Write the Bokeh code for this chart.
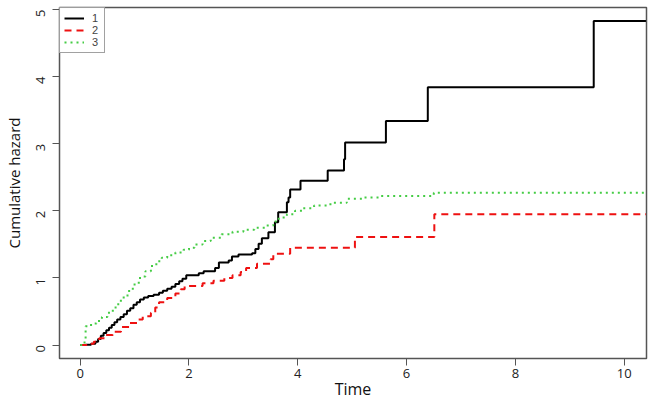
import math
from bokeh.plotting import figure
from bokeh.models import Range1d, FixedTicker
from bokeh.embed import file_html
from bokeh.resources import INLINE

# Series 1 (black solid)
t1 = [0, 0.1, 0.2, 0.28, 0.33, 0.38, 0.43, 0.48, 0.53, 0.58, 0.63, 0.68, 0.74, 0.8,
      0.86, 0.92, 0.98, 1.04, 1.1, 1.17, 1.25, 1.35, 1.45, 1.52, 1.6, 1.68, 1.75, 1.82,
      1.88, 1.95, 2.18, 2.27, 2.48, 2.55, 2.73, 2.79, 2.91, 3.16, 3.22,
      3.28, 3.34, 3.46, 3.58, 3.64, 3.80, 3.83, 3.86, 4.05, 4.55, 4.85, 4.87, 5.62,
      6.39, 9.44, 10.4]
h1 = [0, 0.005, 0.02, 0.05, 0.09, 0.14, 0.18, 0.22, 0.26, 0.3, 0.34, 0.38, 0.42, 0.46,
      0.51, 0.55, 0.6, 0.64, 0.68, 0.71, 0.73, 0.75, 0.78, 0.81, 0.84, 0.87, 0.91, 0.95,
      0.99, 1.04, 1.07, 1.10, 1.15, 1.23, 1.26, 1.32, 1.35, 1.37,
      1.43, 1.51, 1.59, 1.68, 1.83, 1.98, 2.13, 2.20, 2.32, 2.45, 2.60, 2.77, 3.02,
      3.34, 3.84, 4.83, 4.83]

# Series 2 (red dashed)
t2 = [0, 0.15, 0.25, 0.35, 0.45, 0.6, 0.75, 0.9, 1.05, 1.15, 1.3, 1.38, 1.45, 1.6,
      1.75, 1.85, 1.92, 2.25, 2.45, 2.65, 2.8, 2.95, 3.05, 3.25, 3.5, 3.55, 3.86,
      5.05, 6.51, 10.4]
h2 = [0, 0.02, 0.05, 0.1, 0.15, 0.2, 0.27, 0.33, 0.38, 0.43, 0.48, 0.56, 0.64, 0.7,
      0.77, 0.83, 0.88, 0.92, 0.96, 1.0, 1.04, 1.09, 1.15, 1.21, 1.28, 1.36, 1.45,
      1.61, 1.95, 1.95]

# Series 3 (green dotted)
t3 = [0, 0.08, 0.1, 0.2, 0.3, 0.4, 0.5, 0.6, 0.7, 0.8, 0.9, 1.0, 1.1, 1.2, 1.3, 1.4,
      1.5, 1.6, 1.75, 1.9, 2.0, 2.1, 2.25, 2.4, 2.6, 2.8, 3.0, 3.2, 3.4, 3.55, 3.65,
      3.8, 3.95, 4.1, 4.3, 4.6, 4.9, 5.2, 5.5, 6.5, 10.4]
h3 = [0, 0.08, 0.28, 0.32, 0.36, 0.42, 0.48, 0.56, 0.66, 0.74, 0.84, 0.93, 1.02, 1.1,
      1.18, 1.25, 1.3, 1.34, 1.38, 1.42, 1.45, 1.5, 1.55, 1.6, 1.65, 1.69, 1.72, 1.75,
      1.78, 1.84, 1.9, 1.95, 2.0, 2.04, 2.08, 2.12, 2.18, 2.2, 2.22, 2.27, 2.27]

x_ticks = [0, 2, 4, 6, 8, 10]
y_ticks = [0, 1, 2, 3, 4, 5]
labels = ["1", "2", "3"]

FONT = "Open Sans"
GRAY = "#555555"

p = figure(width=653, height=405, output_backend="svg", toolbar_location=None,
           x_range=Range1d(-0.38, 10.41), y_range=Range1d(-0.2, 5.03),
           min_border_left=57, min_border_right=7, min_border_top=7,
           min_border_bottom=47)

p.step(t1, h1, mode="after", line_color="black", line_width=2, legend_label=labels[0])
p.step(t2, h2, mode="after", line_color="#EE1111", line_width=2, line_dash="7 5",
       legend_label=labels[1])
p.step(t3, h3, mode="after", line_color="#44CC44", line_width=2, line_dash="2 4",
       legend_label=labels[2])

p.grid.visible = False
p.outline_line_color = GRAY
p.outline_line_width = 1.5

for ax in (p.xaxis[0], p.yaxis[0]):
    ax.axis_line_color = GRAY
    ax.major_tick_line_color = GRAY
    ax.major_tick_in = 0
    ax.major_tick_out = 7
    ax.minor_tick_line_color = None
    ax.major_label_text_font = FONT
    ax.major_label_text_font_size = "13px"
    ax.major_label_text_color = "#222222"
    ax.axis_label_text_font = FONT
    ax.axis_label_text_font_size = "16px"
    ax.axis_label_text_font_style = "normal"
    ax.axis_label_text_color = "#111111"

p.xaxis[0].ticker = FixedTicker(ticks=x_ticks)
p.yaxis[0].ticker = FixedTicker(ticks=y_ticks)
p.xaxis[0].axis_label = "Time"
p.yaxis[0].axis_label = "Cumulative hazard"
p.yaxis[0].axis_label_text_font_size = "15px"
p.yaxis[0].major_label_orientation = math.pi / 2
p.xaxis[0].major_label_standoff = 3
p.xaxis[0].axis_label_standoff = -3
p.yaxis[0].major_label_standoff = 12
p.yaxis[0].axis_label_standoff = 5

lg = p.legend[0]
lg.location = "top_left"
lg.margin = 0
lg.padding = 4
lg.spacing = 0
lg.border_line_color = "#444444"
lg.border_line_width = 1
lg.label_text_font = "Liberation Sans"
lg.label_text_font_size = "11px"
lg.label_height = 12
lg.label_width = 8
lg.glyph_height = 12
lg.glyph_width = 20
lg.label_standoff = 8

open("out.html", "w").write(file_html(p, INLINE))
